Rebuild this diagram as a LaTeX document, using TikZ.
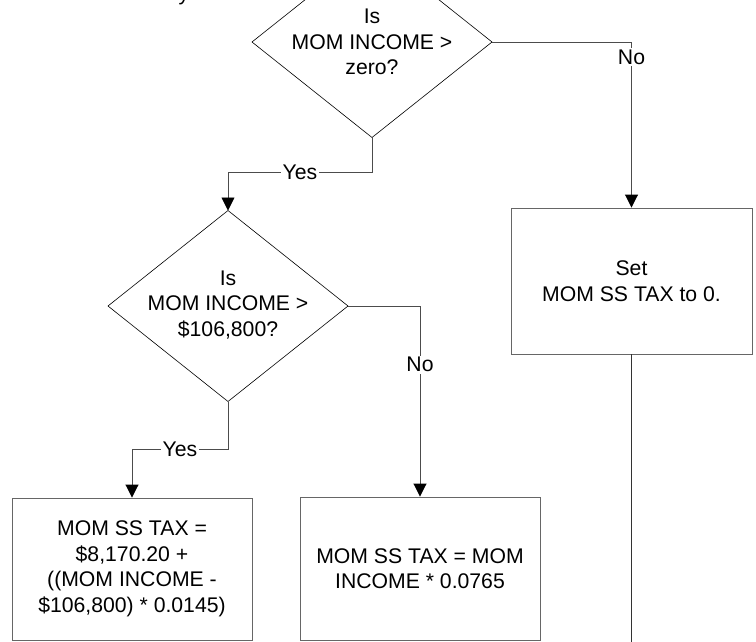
\documentclass[tikz,border=0pt]{standalone}
\usepackage{fontspec}
\setmainfont{Liberation Sans}
\usetikzlibrary{shapes.geometric,arrows.meta}
\begin{document}
\begin{tikzpicture}[x=1pt,y=-1pt,
  every node/.style={font=\fontsize{21.2}{25.5}\selectfont},
  decision/.style={shape=diamond,draw=black,line width=0.6pt,inner sep=0pt,outer sep=0pt,minimum width=240pt,minimum height=191pt},
  dtext/.style={align=center,inner sep=0pt},
  procbox/.style={rectangle,draw=black!60,line width=0.9pt,align=center,inner sep=0pt},
  conn/.style={draw=black!70,line width=0.9pt,-{Triangle[length=13pt,width=13pt,color=black]}},
  plain/.style={draw=black!80,line width=0.8pt},
  lbl/.style={fill=white,inner sep=1.5pt}]
\useasboundingbox (0,0) rectangle (756,642);
\fill[white] (0,0) rectangle (756,642);
% cut-off text at top
\node[anchor=base,inner sep=0pt] (cut) at (184,0.5) {y};
% decisions
\node[decision] (d1) at (372,42) {};
\node[dtext] (d1t) at (d1.center) {Is\\MOM INCOME >\\zero?};
\node[decision] (d2) at (228,306) {};
\node[dtext] (d2t) at ([yshift=1pt]d2.center) {Is\\MOM INCOME >\\\$106,800?};
% boxes
\node[procbox,minimum width=241pt,minimum height=146pt] (set) at (631.5,281) {Set\\MOM SS TAX to 0.};
\node[procbox,minimum width=240pt,minimum height=142pt] (over) at (132,569) {MOM SS TAX =\\\$8,170.20 +\\((MOM INCOME -\\\$106,800) * 0.0145)};
\node[procbox,minimum width=240pt,minimum height=143pt] (under) at (420,568.5) {MOM SS TAX = MOM\\INCOME * 0.0765};
\coordinate (setend) at (631.5,646);
% connectors
\draw[conn] (d1.east) -| node[lbl,pos=0.545] {No} (set.north);
\draw[conn] (d1.south) -- ++(0,35) -| node[lbl,pos=0.25] {Yes} (d2.north);
\draw[conn] (d2.east) -| node[lbl,pos=0.654] {No} (under.north);
\draw[conn] (d2.south) -- ++(0,48) -| node[lbl,pos=0.25] {Yes} (over.north);
\draw[plain] (set.south) -- (setend);
\end{tikzpicture}
\end{document}
